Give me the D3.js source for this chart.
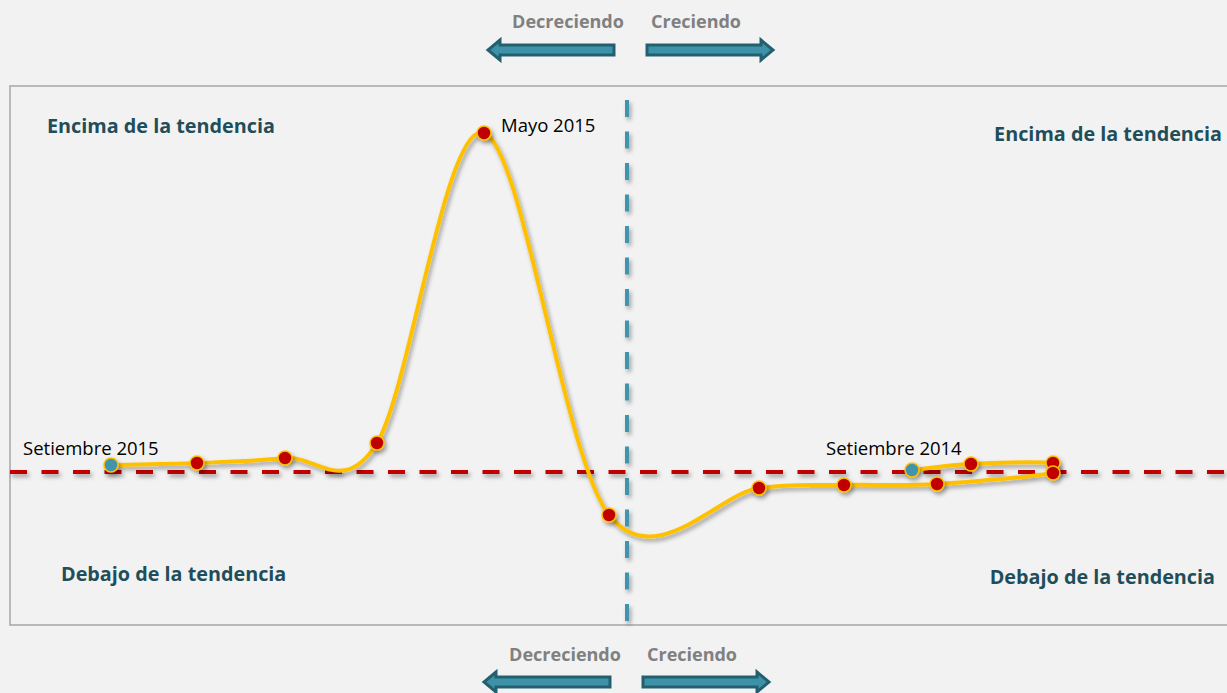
<!DOCTYPE html>
<html>
<head>
<meta charset="utf-8">
<script src="https://cdn.jsdelivr.net/npm/d3@7"></script>
<style>
  body { margin: 0; background: #f2f2f2; }
  svg { display: block; }
</style>
</head>
<body>
<svg id="reloj"></svg>
<script>
// Datos: meses, crecimiento (eje x) y desviación de la tendencia (eje y)
const meses = ["Setiembre 2014", "Octubre 2014", "Noviembre 2014", "Diciembre 2014",
    "Enero 2015", "Febrero 2015", "Marzo 2015", "Abril 2015", "Mayo 2015",
    "Junio 2015", "Julio 2015", "Agosto 2015", "Setiembre 2015"];
const crecimiento = [2.85, 3.44, 4.26, 4.26, 3.10, 2.17, 1.32, -0.18, -1.43, -2.50, -3.42, -4.30, -5.16];
const desviacion = [0.2, 0.8, 0.9, -0.1, -1.2, -1.3, -1.6, -4.3, 33.9, 2.9, 1.4, 0.9, 0.7];
const etiquetados = ["Setiembre 2014", "Mayo 2015", "Setiembre 2015"];
const extremos = ["Setiembre 2014", "Setiembre 2015"];

const width = 1227;
const height = 693;

const svg = d3.select("#reloj")
    .attr("width", width)
    .attr("height", height);

const marco = { top: 86, bottom: 625, left: 10, right: 1240 };

const xScale = d3.scaleLinear()
    .domain([-6.17, 6.13])
    .range([marco.left, marco.right]);

const yScale = d3.scaleLinear()
    .domain([-15.3, 38.6])
    .range([marco.bottom, marco.top]);

const defs = svg.append("defs");
const filtro = defs.append("filter")
    .attr("id", "sombra")
    .attr("filterUnits", "userSpaceOnUse")
    .attr("x", 0).attr("y", 0)
    .attr("width", width).attr("height", height);
filtro.append("feDropShadow")
    .attr("dx", 2)
    .attr("dy", 3)
    .attr("stdDeviation", 2)
    .attr("flood-color", "#000")
    .attr("flood-opacity", 0.35);

// Marco
svg.append("rect")
    .attr("x", marco.left)
    .attr("y", marco.top)
    .attr("width", marco.right - marco.left)
    .attr("height", marco.bottom - marco.top)
    .attr("fill", "#f2f2f2")
    .attr("stroke", "#a6a6a6")
    .attr("stroke-width", 1.5);

// Líneas de referencia (tendencia y crecimiento cero)
svg.append("line")
    .attr("x1", xScale(0)).attr("x2", xScale(0))
    .attr("y1", 100).attr("y2", marco.bottom)
    .attr("stroke", "#3f95ad")
    .attr("stroke-width", 4)
    .attr("stroke-dasharray", "17 14.5")
    .attr("filter", "url(#sombra)");

svg.append("line")
    .attr("x1", marco.left).attr("x2", width)
    .attr("y1", yScale(0)).attr("y2", yScale(0))
    .attr("stroke", "#c00000")
    .attr("stroke-width", 4)
    .attr("stroke-dasharray", "17 14.5")
    .attr("filter", "url(#sombra)");

// Curva suavizada tipo Excel (Catmull-Rom con asas limitadas)
const puntos = meses.map((m, i) => ({ mes: m, x: crecimiento[i], y: desviacion[i] }));

function curvaSuave(datos) {
    const pts = datos.map(d => [xScale(d.x), yScale(d.y)]);
    const n = pts.length;
    const asa = (a, b, largo) => {
        let t = [(b[0] - a[0]) / 6, (b[1] - a[1]) / 6];
        const l = Math.hypot(t[0], t[1]);
        const max = 0.7 * largo;
        if (l > max) t = [t[0] * max / l, t[1] * max / l];
        return t;
    };
    const p = d3.path();
    p.moveTo(pts[0][0], pts[0][1]);
    for (let i = 0; i < n - 1; i++) {
        const p0 = pts[Math.max(i - 1, 0)];
        const p1 = pts[i];
        const p2 = pts[i + 1];
        const p3 = pts[Math.min(i + 2, n - 1)];
        const largo = Math.hypot(p2[0] - p1[0], p2[1] - p1[1]);
        const t1 = asa(p0, p2, largo);
        const t2 = asa(p1, p3, largo);
        p.bezierCurveTo(p1[0] + t1[0], p1[1] + t1[1], p2[0] - t2[0], p2[1] - t2[1], p2[0], p2[1]);
    }
    return p.toString();
}

svg.append("path")
    .datum(puntos)
    .attr("d", curvaSuave)
    .attr("fill", "none")
    .attr("stroke", "#ffc000")
    .attr("stroke-width", 4)
    .attr("filter", "url(#sombra)");

svg.selectAll("circle.punto")
    .data(puntos)
    .enter()
    .append("circle")
    .attr("class", "punto")
    .attr("cx", d => xScale(d.x))
    .attr("cy", d => yScale(d.y))
    .attr("r", 7)
    .attr("fill", d => extremos.includes(d.mes) ? "#3f95ad" : "#c00000")
    .attr("stroke", "#ffc000")
    .attr("stroke-width", 1.5)
    .attr("filter", "url(#sombra)");

// Etiquetas de puntos
const posEtiqueta = {
    "Setiembre 2014": { dx: -86, dy: -20, anchor: "start" },
    "Mayo 2015": { dx: 17, dy: -6, anchor: "start" },
    "Setiembre 2015": { dx: -88, dy: -15, anchor: "start" }
};

svg.selectAll("text.mes")
    .data(puntos.filter(d => etiquetados.includes(d.mes)))
    .enter()
    .append("text")
    .attr("class", "mes")
    .attr("x", d => xScale(d.x) + posEtiqueta[d.mes].dx)
    .attr("y", d => yScale(d.y) + posEtiqueta[d.mes].dy)
    .attr("dominant-baseline", "middle")
    .attr("text-anchor", d => posEtiqueta[d.mes].anchor)
    .attr("font-family", "'Open Sans', sans-serif")
    .attr("font-size", 18.5)
    .attr("fill", "#000")
    .text(d => d.mes);

// Cuadrantes
const cuadrantes = [
    { texto: "Encima de la tendencia", x: 47, y: 133, anchor: "start" },
    { texto: "Encima de la tendencia", x: 1222, y: 141, anchor: "end" },
    { texto: "Debajo de la tendencia", x: 61, y: 581, anchor: "start" },
    { texto: "Debajo de la tendencia", x: 1215, y: 584, anchor: "end" }
];

svg.selectAll("text.cuadrante")
    .data(cuadrantes)
    .enter()
    .append("text")
    .attr("class", "cuadrante")
    .attr("x", d => d.x)
    .attr("y", d => d.y)
    .attr("text-anchor", d => d.anchor)
    .attr("font-family", "'Open Sans', sans-serif")
    .attr("font-weight", "bold")
    .attr("font-size", 19.8)
    .attr("fill", "#1f4e5a")
    .text(d => d.texto);

// Flechas de dirección arriba y abajo
function flecha(x0, x1, y) {
    const dir = x1 > x0 ? 1 : -1;
    const base = x1 - dir * 12;
    const p = d3.path();
    p.moveTo(x0, y - 5);
    p.lineTo(base, y - 5);
    p.lineTo(base, y - 10);
    p.lineTo(x1, y);
    p.lineTo(base, y + 10);
    p.lineTo(base, y + 5);
    p.lineTo(x0, y + 5);
    p.closePath();
    return p.toString();
}

const flechas = [
    { x0: 614, x1: 488, y: 50 },
    { x0: 647, x1: 773, y: 50 },
    { x0: 610, x1: 484, y: 682 },
    { x0: 643, x1: 769, y: 682 }
];

svg.selectAll("path.flecha")
    .data(flechas)
    .enter()
    .append("path")
    .attr("class", "flecha")
    .attr("d", d => flecha(d.x0, d.x1, d.y))
    .attr("fill", "#3d92a9")
    .attr("stroke", "#23606f")
    .attr("stroke-width", 3)
    .attr("stroke-linejoin", "miter");

const direcciones = [
    { texto: "Decreciendo", x: 568, y: 28 },
    { texto: "Creciendo", x: 696, y: 28 },
    { texto: "Decreciendo", x: 565, y: 661 },
    { texto: "Creciendo", x: 692, y: 661 }
];

svg.selectAll("text.direccion")
    .data(direcciones)
    .enter()
    .append("text")
    .attr("class", "direccion")
    .attr("x", d => d.x)
    .attr("y", d => d.y)
    .attr("text-anchor", "middle")
    .attr("font-family", "'Open Sans', sans-serif")
    .attr("font-weight", "bold")
    .attr("font-size", 18)
    .attr("fill", "#808080")
    .text(d => d.texto);
</script>
</body>
</html>
